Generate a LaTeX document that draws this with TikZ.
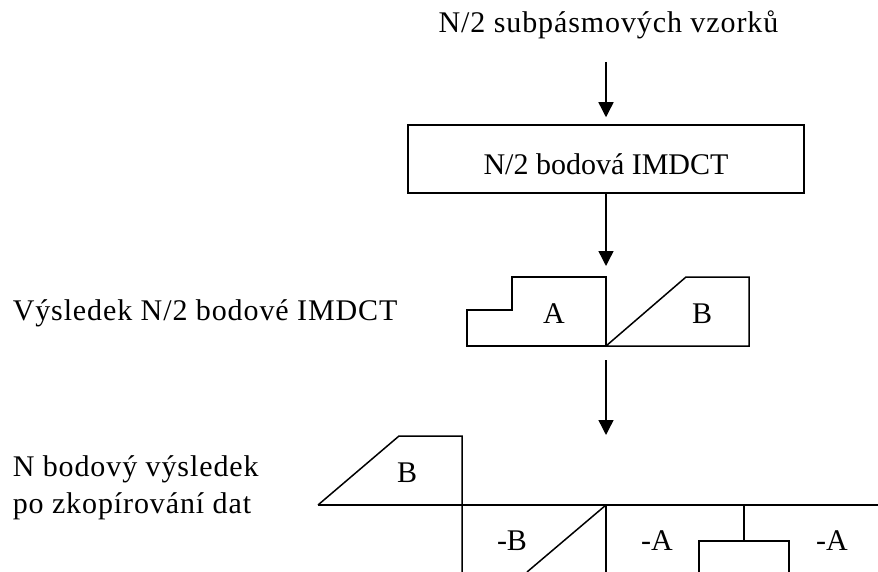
\documentclass[tikz,border=0pt]{standalone}
\usepackage{fontspec}
\setmainfont{Liberation Serif}
\newfontfamily\lblfont[LetterSpace=3]{Liberation Serif}
\usetikzlibrary{arrows.meta}
\begin{document}
\begin{tikzpicture}[x=1pt,y=-1pt,line width=1.5pt,line join=miter,
  txt/.style={font=\fontsize{30}{36}\selectfont, inner sep=0pt},
  lbl/.style={font=\fontsize{30}{36}\lblfont, inner sep=0pt},
  flow/.style={-{Triangle[length=15pt,width=15pt]}, line width=1.4pt},
  stagebox/.style={draw, line width=1.5pt, minimum width=396pt, minimum height=68pt,
    inner sep=0pt, text height=32pt, text depth=0pt, font=\fontsize{30}{36}\selectfont}]
\useasboundingbox (0,0) rectangle (878,572);

% input and the IMDCT stage
\node[lbl, anchor=base] (src) at (608.5,33) {N/2 subpásmových vzorků};
\node[stagebox] (imdct) at (606,159) {N/2 bodová IMDCT};

\coordinate (a1) at (606,62);
\coordinate (a2) at (606,266);
\coordinate (a3s) at (606,360);
\coordinate (a3e) at (606,435);

\draw[flow, shorten >=7pt] (a1) -- (imdct.north);
\draw[flow] (imdct.south) -- (a2);
\draw[flow] (a3s) -- (a3e);

% output of the N/2 point IMDCT
\node[lbl, anchor=base west] (res) at (12,320) {Výsledek N/2 bodové IMDCT};
\draw (467,346) -- (467,310) -- (512,310) -- (512,277) -- (606,277) -- (606,346) -- cycle;
\draw (606,346) -- (686,277) -- (749,277) -- (749,346) -- cycle;
\node[txt, anchor=base] (lA) at (554,323) {A};
\node[txt, anchor=base] (lB) at (702,323) {B};

% N point result after copying
\node[lbl, anchor=base west] (full1) at (12,476) {N bodový výsledek};
\node[lbl, anchor=base west] (full2) at (12,513) {po zkopírování dat};
\draw (318,505) -- (878,505);
\draw (318,505) -- (399,436) -- (462,436) -- (462,572);
\draw (606,505) -- (527,572);
\draw (606,505) -- (606,572);
\draw (744,505) -- (744,541);
\draw (699,572) -- (699,541) -- (789,541) -- (789,572);
\node[txt, anchor=base] (mB) at (407,482) {B};
\node[txt, anchor=base] (nB) at (512,550) {-B};
\node[txt, anchor=base] (nA1) at (657,550) {-A};
\node[txt, anchor=base] (nA2) at (832,550) {-A};
\end{tikzpicture}
\end{document}
